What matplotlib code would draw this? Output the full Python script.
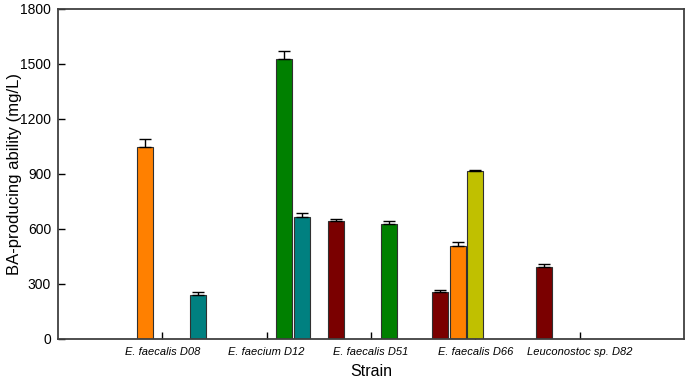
import matplotlib
matplotlib.use("Agg")
import matplotlib.pyplot as plt
import numpy as np

plt.rcParams['font.family'] = ['Liberation Sans', 'DejaVu Sans']

# Strains on the x axis
strains = ['E. faecalis D08', 'E. faecium D12', 'E. faecalis D51',
           'E. faecalis D66', 'Leuconostoc sp. D82']

# One series per bar colour (nan = no bar), values in mg/L
dark_red = [np.nan, np.nan, 644, 256, 395]
dark_red_err = [0, 0, 11, 10, 12]
orange = [1049, np.nan, np.nan, 506, np.nan]
orange_err = [40, 0, 0, 21, 0]
yellow = [np.nan, np.nan, np.nan, 915, np.nan]
yellow_err = [0, 0, 0, 5, 0]
green = [np.nan, 1526, 626, np.nan, np.nan]
green_err = [0, 47, 16, 0, 0]
teal = [240, 664, np.nan, np.nan, np.nan]
teal_err = [15, 25, 0, 0, 0]

series = [
    (dark_red, dark_red_err, '#7a0000'),
    (orange, orange_err, '#ff8000'),
    (yellow, yellow_err, '#c0c000'),
    (green, green_err, '#008000'),
    (teal, teal_err, '#008080'),
]

fig = plt.figure(figsize=(6.85, 3.84), dpi=100)
ax = fig.add_axes([0.0847, 0.1172, 0.9138, 0.8594])

x = np.arange(1, len(strains) + 1)
step = 0.169
width = 0.153

for i, (vals, errs, color) in enumerate(series):
    vals = np.array(vals, dtype=float)
    errs = np.array(errs, dtype=float)
    pos = x + (i - 2) * step
    mask = ~np.isnan(vals)
    ax.bar(pos[mask], vals[mask], width=width, color=color,
           edgecolor='#303030', linewidth=0.8, zorder=2)
    # only the upper half of the error bar is drawn
    ax.errorbar(pos[mask], vals[mask],
                yerr=[np.zeros(mask.sum()), errs[mask]],
                fmt='none', ecolor='black', elinewidth=1,
                capsize=4, capthick=1, zorder=3)

ax.set_xlim(0, 6)
ax.set_ylim(0, 1800)
ax.set_yticks(np.arange(0, 1801, 300))
ax.set_xticks(x)
ax.set_xticklabels(strains, fontsize=8, style='italic')
ax.tick_params(axis='y', direction='in', length=5, width=1,
               labelsize=10, pad=5)
ax.tick_params(axis='x', direction='in', length=5, width=1, pad=6)

for sp in ax.spines.values():
    sp.set_color('#404040')
    sp.set_linewidth(1.3)

ax.set_ylabel('BA-producing ability (mg/L)', fontsize=12)
ax.yaxis.set_label_coords(-0.058, 0.5)
ax.set_xlabel('Strain', fontsize=11.5, labelpad=5)

fig.savefig('out.png', dpi=100)
